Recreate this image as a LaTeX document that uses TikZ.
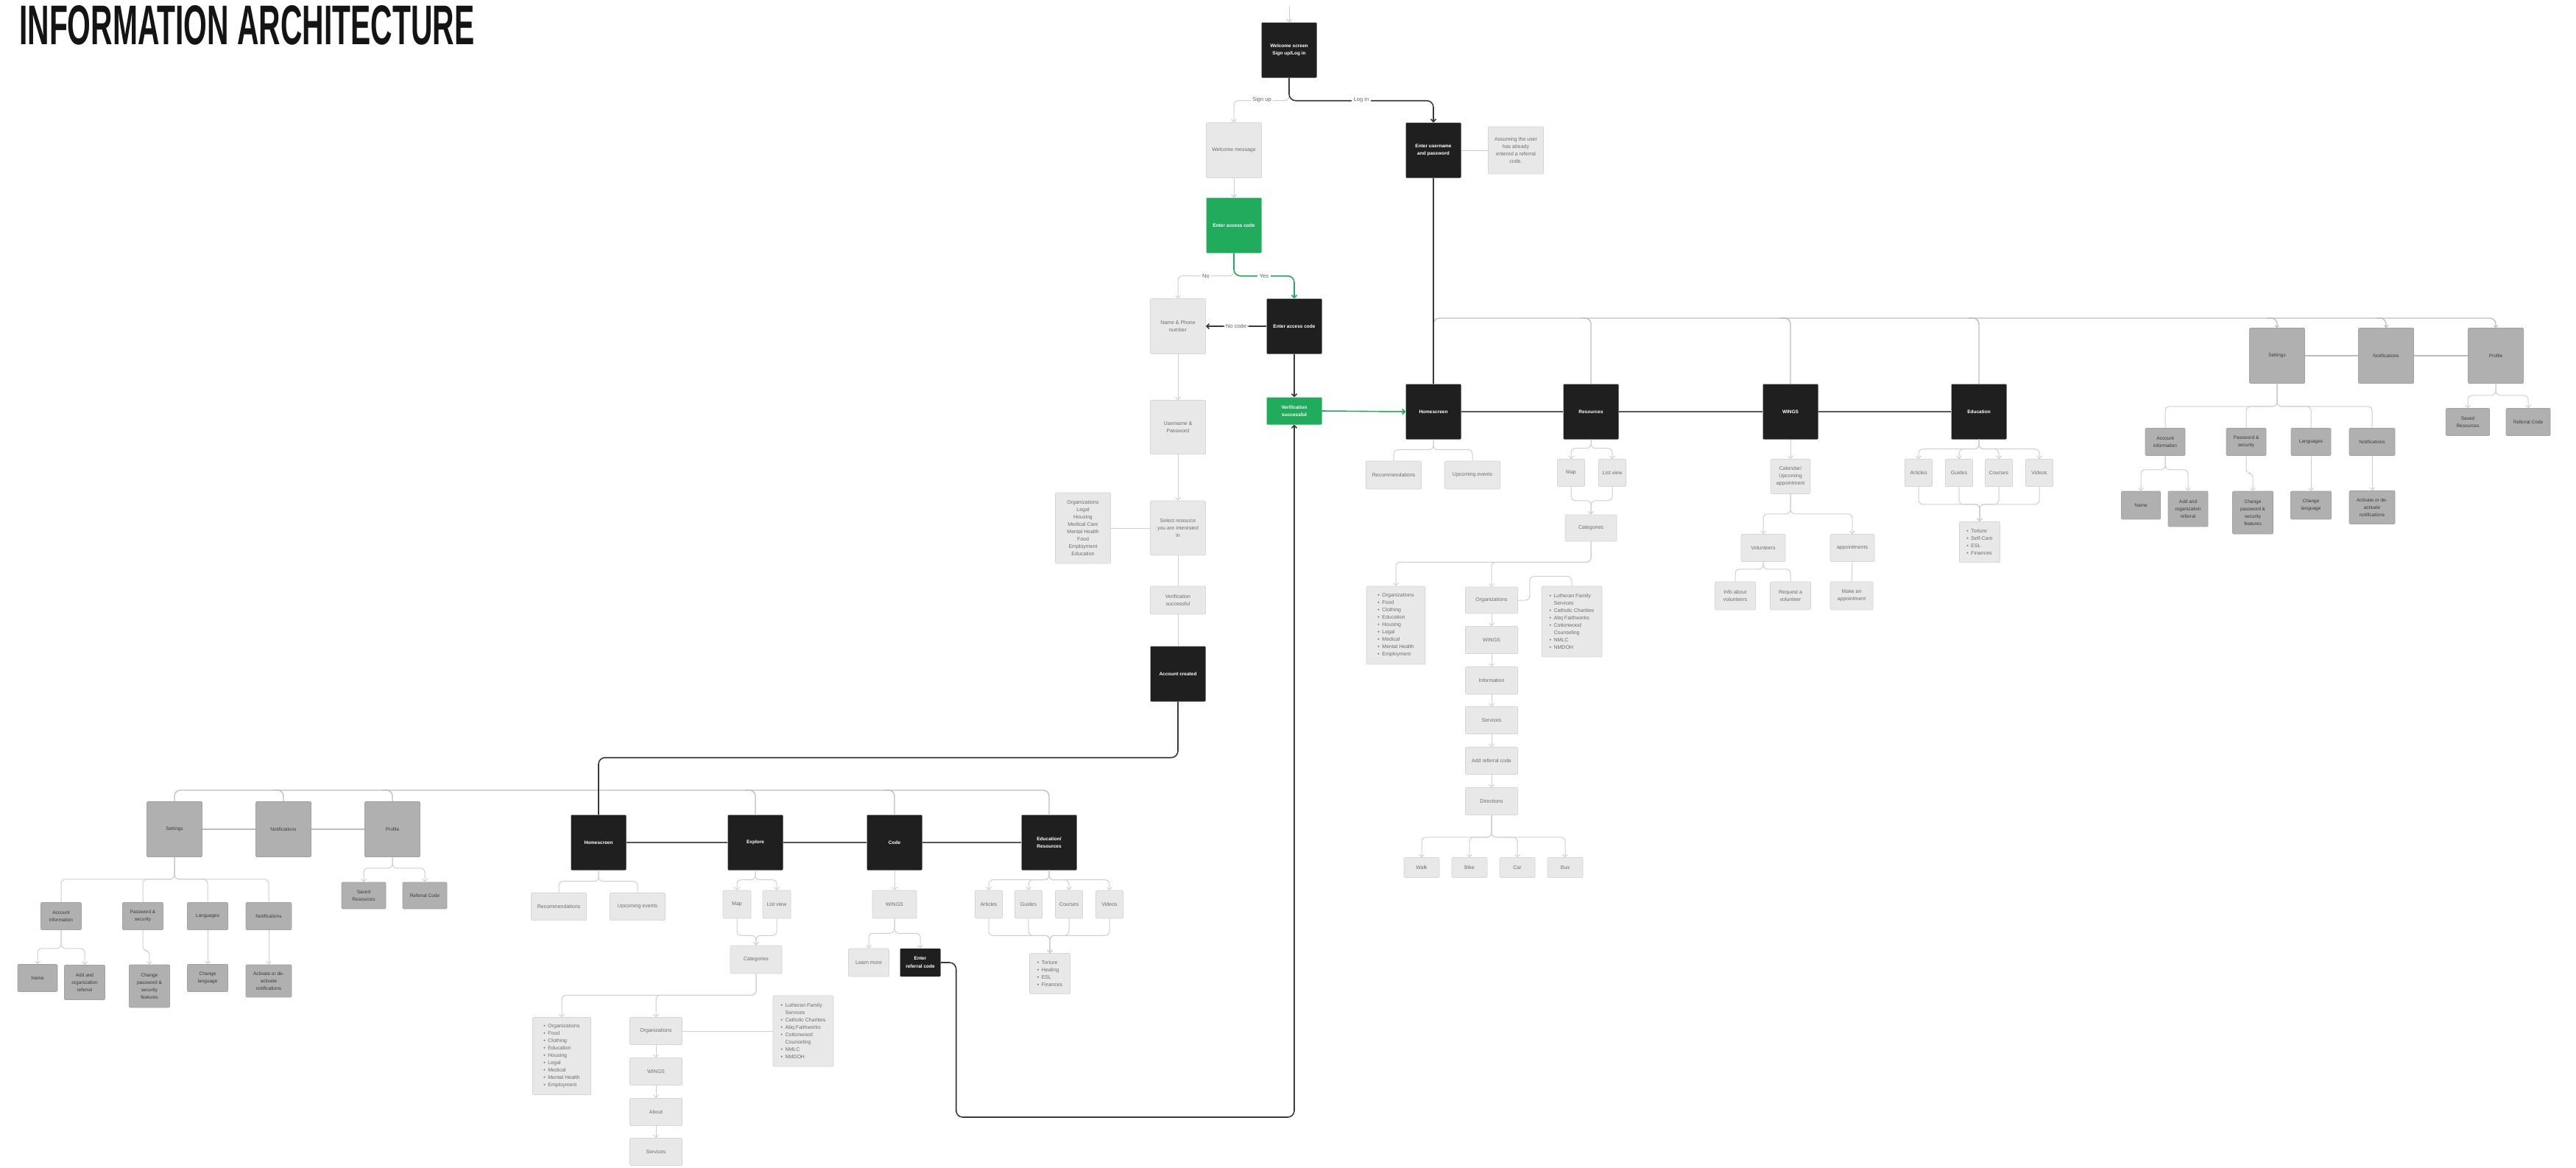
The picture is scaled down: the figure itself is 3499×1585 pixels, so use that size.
\documentclass[tikz,border=0pt]{standalone}
\usepackage{fontspec}
\setmainfont{Liberation Sans}
\usepackage{graphicx}
\usetikzlibrary{arrows.meta}

\definecolor{boxdark}{HTML}{1F1F1F}
\definecolor{boxgreen}{HTML}{20AC5C}
\definecolor{boxlight}{HTML}{E8E8E8}
\definecolor{edgelight}{HTML}{D6D6D6}
\definecolor{boxmid}{HTML}{B0B0B0}
\definecolor{edgemid}{HTML}{A2A2A2}
\definecolor{txtlight}{HTML}{6E6E6E}
\definecolor{txtmid}{HTML}{3C3C3C}
\definecolor{linelight}{HTML}{CFCFCF}
\definecolor{linebus}{HTML}{BDBDBD}
\definecolor{linedark}{HTML}{3A3A3A}

% bullet for list boxes
\newcommand{\blt}{\makebox[6pt][l]{\textbullet}}

\tikzset{
  boxbase/.style={inner sep=1pt, align=center, rounded corners=1.2pt,
    font=\fontsize{7}{10}\selectfont},
  wh/.style 2 args={minimum width=#1pt, minimum height=#2pt},
  dkbox/.style={boxbase, fill=boxdark, text=white,
    font=\fontsize{6.5}{10.5}\selectfont\bfseries, wh={75}{75}},
  grbox/.style={boxbase, fill=boxgreen, text=white,
    font=\fontsize{6.5}{10.5}\selectfont\bfseries, wh={75}{75}},
  ltbox/.style={boxbase, fill=boxlight, draw=edgelight, line width=0.6pt, text=txtlight},
  mdbox/.style={boxbase, fill=boxmid, draw=edgemid, line width=0.6pt, text=txtmid,
    font=\fontsize{6.5}{10}\selectfont},
  lst/.style={align=left, font=\fontsize{7}{10}\selectfont},
  headed/.style={-{Straight Barb[length=3.5pt,width=7pt]}},
  smallhead/.style={-{Straight Barb[length=2.5pt,width=5pt]}},
  lt/.style={draw=linelight, line width=1pt, rounded corners=6pt},
  bus/.style={draw=linebus, line width=1.3pt, rounded corners=8pt},
  dk/.style={draw=linedark, line width=1.6pt, rounded corners=9pt},
  gr/.style={draw=boxgreen, line width=1.6pt, rounded corners=9pt},
  navline/.style={draw=linedark!85, line width=1.8pt},
  sline/.style={draw=linebus, line width=1.2pt},
  lbl/.style={fill=white, inner sep=2.5pt, text=txtmid!80, font=\fontsize{7.5}{9}\selectfont},
}

\begin{document}
\begin{tikzpicture}[x=1pt, y=-1pt]
\path[use as bounding box, fill=white] (0,0) rectangle (3499,1585);

% heading
\node[anchor=north west, inner sep=0pt, text=black!92] (title) at (26,7)
  {\resizebox{618pt}{53pt}{\bfseries INFORMATION ARCHITECTURE}};

% ---------- sign up / log in flow ----------
\node[dkbox] (ws) at (1751,68) {Welcome screen\\Sign up/Log in};
\node[ltbox, wh={75}{75}] (wm) at (1676,204) {Welcome message};
\node[dkbox] (eu) at (1947,204) {Enter username\\and password};
\node[ltbox, wh={75}{64}] (as) at (2059,204) {Assuming the user\\has already\\entered a referral\\code.};
\node[grbox] (gac) at (1676,306) {Enter access code};
\node[ltbox, wh={75}{75}] (np) at (1600,443) {Name \& Phone\\number};
\node[dkbox] (dac) at (1758,443) {Enter access code};
\node[grbox, wh={75}{37}] (vg) at (1758,558) {Verification\\successful};
\node[ltbox, wh={75}{73}] (up) at (1600,580) {Username \&\\Password};
\node[ltbox, wh={75}{74}] (sr) at (1600,717) {Select resource\\you are interested\\in};
\node[ltbox, wh={75}{96}] (ol) at (1471,717) {Organizations\\Legal\\Housing\\Medical Care\\Mental Health\\Food\\Employment\\Education};
\node[ltbox, wh={75}{38}] (vs) at (1600,815) {Verification\\successful};
\node[dkbox] (ac) at (1600,915) {Account created};

% ---------- main navigation (log in) ----------
\node[dkbox] (h1) at (1947,559) {Homescreen};
\node[dkbox] (r1) at (2161,559) {Resources};
\node[dkbox] (w1) at (2432,559) {WINGS};
\node[dkbox] (e1) at (2688,559) {Education};

\node[ltbox, wh={75}{38}] (rec1) at (1893,645) {Recommendations};
\node[ltbox, wh={75}{38}] (ue1) at (2000,645) {Upcoming events};

\node[ltbox, wh={37}{37}] (map1) at (2134,642) {Map};
\node[ltbox, wh={37}{37}] (lv1) at (2190,642) {List view};
\node[ltbox, wh={70}{36}] (cat1) at (2161,717) {Categories};
\node[ltbox, wh={80}{106}, lst] (cl1) at (1896,849) {\blt Organizations\\\blt Food\\\blt Clothing\\\blt Education\\\blt Housing\\\blt Legal\\\blt Medical\\\blt Mental Health\\\blt Employment};
\node[ltbox, wh={71}{36}] (org1) at (2026,815) {Organizations};
\node[ltbox, wh={82}{96}, lst] (ll1) at (2135,844) {\blt Lutheran Family\\\hspace*{6pt}Services\\\blt Catholic Charities\\\blt Abq Faithworks\\\blt Cottonwood\\\hspace*{6pt}Counseling\\\blt NMLC\\\blt NMDOH};
\node[ltbox, wh={71}{37}] (wi1) at (2026,869) {WINGS};
\node[ltbox, wh={71}{37}] (inf1) at (2026,924) {Information};
\node[ltbox, wh={71}{37}] (ser1) at (2026,978) {Services};
\node[ltbox, wh={71}{37}] (arc1) at (2026,1033) {Add referral code};
\node[ltbox, wh={71}{37}] (dir1) at (2026,1088) {Directions};
\node[ltbox, wh={48}{27}] (walk) at (1931,1178) {Walk};
\node[ltbox, wh={48}{27}] (bike) at (1996,1178) {Bike};
\node[ltbox, wh={48}{27}] (car) at (2061,1178) {Car};
\node[ltbox, wh={48}{27}] (bus) at (2126,1178) {Bus};

\node[ltbox, wh={54}{47}] (cal1) at (2432,647) {Calendar/\\Upcoming\\appointment};
\node[ltbox, wh={60}{37}] (vol1) at (2395,744) {Volunteers};
\node[ltbox, wh={60}{37}] (app1) at (2516,744) {appointments};
\node[ltbox, wh={55}{38}] (iv1) at (2357,809) {Info about\\volunteers};
\node[ltbox, wh={55}{38}] (rv1) at (2432,809) {Request a\\volunteer};
\node[ltbox, wh={58}{38}] (ma1) at (2515,809) {Make an\\appointment};

\node[ltbox, wh={37}{37}] (art1) at (2606,642) {Articles};
\node[ltbox, wh={37}{37}] (gui1) at (2661,642) {Guides};
\node[ltbox, wh={37}{37}] (cou1) at (2715,642) {Courses};
\node[ltbox, wh={37}{37}] (vid1) at (2770,642) {Videos};
\node[ltbox, wh={55}{55}, lst] (el1) at (2689,736) {\blt Torture\\\blt Self-Care\\\blt ESL\\\blt Finances};

% settings group (log in)
\node[mdbox, wh={75}{75}] (st1) at (3093,483) {Settings};
\node[mdbox, wh={75}{75}] (nt1) at (3241,483) {Notifications};
\node[mdbox, wh={75}{75}] (pf1) at (3390,483) {Profile};
\node[mdbox, wh={54}{37}] (ai1) at (2941,600) {Account\\information};
\node[mdbox, wh={54}{37}] (ps1) at (3051,600) {Password \&\\security};
\node[mdbox, wh={54}{37}] (lg1) at (3139,600) {Languages};
\node[mdbox, wh={62}{37}] (nn1) at (3222,600) {Notifications};
\node[mdbox, wh={53}{38}] (nm1) at (2908,686) {Name};
\node[mdbox, wh={54}{48}] (ao1) at (2972,691) {Add and\\organization\\referral};
\node[mdbox, wh={55}{58}] (cp1) at (3060,696) {Change\\password \&\\security\\features};
\node[mdbox, wh={55}{38}] (chl1) at (3139,686) {Change\\language};
\node[mdbox, wh={62}{45}] (an1) at (3222,689) {Activate or de-\\activate\\notifications};
\node[mdbox, wh={59}{37}] (sv1) at (3352,573) {Saved\\Resources};
\node[mdbox, wh={60}{37}] (rc1) at (3434,573) {Referral Code};

% ---------- main navigation (sign up) ----------
\node[dkbox] (h2) at (813,1144) {Homescreen};
\node[dkbox] (ex2) at (1026,1144) {Explore};
\node[dkbox] (cd2) at (1215,1144) {Code};
\node[dkbox] (ed2) at (1425,1144) {Education/\\Resources};

\node[ltbox, wh={75}{37}] (rec2) at (759,1231) {Recommendations};
\node[ltbox, wh={75}{37}] (ue2) at (866,1231) {Upcoming events};
\node[ltbox, wh={38}{38}] (map2) at (1001,1228) {Map};
\node[ltbox, wh={38}{38}] (lv2) at (1055,1228) {List view};
\node[ltbox, wh={70}{38}] (cat2) at (1027,1303) {Categories};
\node[ltbox, wh={79}{105}, lst] (cl2) at (763,1434) {\blt Organizations\\\blt Food\\\blt Clothing\\\blt Education\\\blt Housing\\\blt Legal\\\blt Medical\\\blt Mental Health\\\blt Employment};
\node[ltbox, wh={71}{37}] (org2) at (891,1400) {Organizations};
\node[ltbox, wh={82}{96}, lst] (ll2) at (1091,1400) {\blt Lutheran Family\\\hspace*{6pt}Services\\\blt Catholic Charities\\\blt Abq Faithworks\\\blt Cottonwood\\\hspace*{6pt}Counseling\\\blt NMLC\\\blt NMDOH};
\node[ltbox, wh={71}{37}] (wi2) at (891,1455) {WINGS};
\node[ltbox, wh={71}{37}] (ab2) at (891,1510) {About};
\node[ltbox, wh={71}{37}] (ser2) at (891,1564) {Services};

\node[ltbox, wh={60}{38}] (wg2) at (1215,1228) {WINGS};
\node[ltbox, wh={55}{38}] (lm2) at (1180,1307) {Learn more};
\node[dkbox, wh={55}{38}] (er2) at (1250,1307) {Enter\\referral code};

\node[ltbox, wh={37}{38}] (art2) at (1343,1228) {Articles};
\node[ltbox, wh={37}{38}] (gui2) at (1397,1228) {Guides};
\node[ltbox, wh={37}{38}] (cou2) at (1452,1228) {Courses};
\node[ltbox, wh={37}{38}] (vid2) at (1507,1228) {Videos};
\node[ltbox, wh={55}{55}, lst] (el2) at (1426,1322) {\blt Torture\\\blt Healing\\\blt ESL\\\blt Finances};

% settings group (sign up)
\node[mdbox, wh={75}{75}] (st2) at (237,1126) {Settings};
\node[mdbox, wh={75}{75}] (nt2) at (385,1126) {Notifications};
\node[mdbox, wh={75}{75}] (pf2) at (533,1126) {Profile};
\node[mdbox, wh={55}{37}] (ai2) at (83,1244) {Account\\information};
\node[mdbox, wh={55}{37}] (ps2) at (194,1244) {Password \&\\security};
\node[mdbox, wh={55}{37}] (lg2) at (282,1244) {Languages};
\node[mdbox, wh={62}{37}] (nn2) at (365,1244) {Notifications};
\node[mdbox, wh={54}{37}] (nm2) at (51,1328) {Name};
\node[mdbox, wh={55}{47}] (ao2) at (115,1334) {Add and\\organization\\referral};
\node[mdbox, wh={55}{58}] (cp2) at (203,1339) {Change\\password \&\\security\\features};
\node[mdbox, wh={55}{37}] (chl2) at (282,1328) {Change\\language};
\node[mdbox, wh={62}{44}] (an2) at (365,1332) {Activate or de-\\activate\\notifications};
\node[mdbox, wh={60}{36}] (sv2) at (494,1216) {Saved\\Resources};
\node[mdbox, wh={60}{36}] (rc2) at (577,1216) {Referral Code};

% ---------- connectors: entry flow ----------
\coordinate (entry) at (1751,8);
\coordinate (loopy) at (0,1517);
\coordinate (bus1) at (0,432);
\coordinate (bus2) at (0,1073);

\draw[lt, headed] (entry) -- (ws.north);
\draw[lt, headed] (ws.south) -- ++(0,31) -| (wm.north);
\draw[dk, headed] (ws.south) -- ++(0,31) -| (eu.north);
\node[lbl] (lsu) at (1714,136) {Sign up};
\node[lbl] (lli) at (1849,136) {Log in};
\draw[lt] (eu.east) -- (as.west);
\draw[lt, headed] (wm.south) -- (gac.north);
\draw[lt, headed] (gac.south) -- ++(0,31) -| (np.north);
\draw[gr, headed] (gac.south) -- ++(0,31) -| (dac.north);
\node[lbl] (lno) at (1638,375) {No};
\node[lbl] (lyes) at (1717,375) {Yes};
\draw[dk, headed] (dac.west) -- (np.east) node[lbl, midway] (lnc) {No code};
\draw[dk, headed] (dac.south) -- (vg.north);
\draw[lt, headed] (np.south) -- (up.north);
\draw[lt, headed] (up.south) -- (sr.north);
\draw[lt] (sr.south) -- (vs.north);
\draw[lt] (vs.south) -- (ac.north);
\draw[lt] (ol.east) -- (sr.west);
\draw[gr, headed] (vg.east) -- (h1.west);
\draw[dk, headed] (er2.east) -- ++(21,0) |- (vg.south |- loopy) -- (vg.south);

% ---------- connectors: log-in navigation ----------
\draw[bus, smallhead] (h1.north |- bus1) ++(0,16) -- ++(0,-16) -- (pf1.north |- bus1) -- (pf1.north);
\draw[dk] (eu.south) -- (h1.north);
\foreach \n in {r1,w1,e1}
  \draw[bus] (\n.north |- bus1) ++(-14,0) -- ++(14,0) -- (\n.north);
\foreach \n in {st1,nt1}
  \draw[bus, smallhead] (\n.north |- bus1) ++(-14,0) -- ++(14,0) -- (\n.north);
\draw[navline] (h1.east) -- (r1.west) (r1.east) -- (w1.west) (w1.east) -- (e1.west);
\draw[sline] (st1.east) -- (nt1.west) (nt1.east) -- (pf1.west);

\foreach \n in {rec1,ue1}
  \draw[lt] (h1.south) -- ++(0,14) -| (\n.north);
\foreach \n in {map1,lv1}
  \draw[lt, headed] (r1.south) -- ++(0,12) -| (\n.north);
\foreach \n in {map1,lv1}
  \draw[lt, headed] (\n.south) -- ++(0,19) -| (cat1.north);
\foreach \n in {cl1,org1}
  \draw[lt, headed] (cat1.south) -- ++(0,28) -| (\n.north);
\draw[lt] (org1.east) -- ++(16,0) |- ([yshift=13pt]ll1.north) -- (ll1.north);
\draw[lt, headed] (org1.south) -- (wi1.north);
\draw[lt, headed] (wi1.south) -- (inf1.north);
\draw[lt, headed] (inf1.south) -- (ser1.north);
\draw[lt, headed] (ser1.south) -- (arc1.north);
\draw[lt, headed] (arc1.south) -- (dir1.north);
\foreach \n in {walk,bike,car,bus}
  \draw[lt, headed] (dir1.south) -- ++(0,30) -| (\n.north);

\draw[lt, headed] (w1.south) -- (cal1.north);
\foreach \n in {vol1,app1}
  \draw[lt, headed] (cal1.south) -- ++(0,27) -| (\n.north);
\foreach \n in {iv1,rv1}
  \draw[lt] (vol1.south) -- ++(0,10) -| (\n.north);
\draw[lt] (app1.south) -- (ma1.north);

\foreach \n in {art1,gui1,cou1,vid1}
  \draw[lt, headed] (e1.south) -- ++(0,13) -| (\n.north);
\foreach \n in {art1,gui1,cou1,vid1}
  \draw[lt, headed] (\n.south) -- ++(0,24) -| (el1.north);

\foreach \n in {ai1,ps1,lg1,nn1}
  \draw[lt] (st1.south) -- ++(0,31) -| (\n.north);
\foreach \n in {sv1,rc1}
  \draw[lt, headed] (pf1.south) -- ++(0,16) -| (\n.north);
\foreach \n in {nm1,ao1}
  \draw[lt, headed] (ai1.south) -- ++(0,19) -| (\n.north);
\draw[lt, headed] (ps1.south) -- ++(0,24) -| (cp1.north);
\draw[lt, headed] (lg1.south) -- (chl1.north);
\draw[lt, headed] (nn1.south) -- (an1.north);

% ---------- connectors: sign-up navigation ----------
\draw[bus] (st2.north) -- (st2.north |- bus2) -- (ed2.north |- bus2) -- (ed2.north);
\foreach \n in {nt2,pf2,ex2,cd2}
  \draw[bus] (\n.north |- bus2) ++(-14,0) -- ++(14,0) -- (\n.north);
\draw[dk] (ac.south) -- ++(0,76) -| (h2.north);
\draw[navline] (h2.east) -- (ex2.west) (ex2.east) -- (cd2.west) (cd2.east) -- (ed2.west);
\draw[sline] (st2.east) -- (nt2.west) (nt2.east) -- (pf2.west);

\foreach \n in {rec2,ue2}
  \draw[lt] (h2.south) -- ++(0,15) -| (\n.north);
\foreach \n in {map2,lv2}
  \draw[lt, headed] (ex2.south) -- ++(0,13) -| (\n.north);
\foreach \n in {map2,lv2}
  \draw[lt, headed] (\n.south) -- ++(0,23) -| (cat2.north);
\foreach \n in {cl2,org2}
  \draw[lt, headed] (cat2.south) -- ++(0,29) -| (\n.north);
\draw[lt] (org2.east) -- (ll2.west);
\draw[lt, headed] (org2.south) -- (wi2.north);
\draw[lt, headed] (wi2.south) -- (ab2.north);
\draw[lt, headed] (ab2.south) -- (ser2.north);

\draw[lt, headed] (cd2.south) -- (wg2.north);
\foreach \n in {lm2,er2}
  \draw[lt, headed] (wg2.south) -- ++(0,20) -| (\n.north);

\foreach \n in {art2,gui2,cou2,vid2}
  \draw[lt, headed] (ed2.south) -- ++(0,13) -| (\n.north);
\foreach \n in {art2,gui2,cou2,vid2}
  \draw[lt, headed] (\n.south) -- ++(0,23) -| (el2.north);

\foreach \n in {ai2,ps2,lg2,nn2}
  \draw[lt] (st2.south) -- ++(0,30) -| (\n.north);
\foreach \n in {sv2,rc2}
  \draw[lt, headed] (pf2.south) -- ++(0,15) -| (\n.north);
\foreach \n in {nm2,ao2}
  \draw[lt, headed] (ai2.south) -- ++(0,25) -| (\n.north);
\draw[lt, headed] (ps2.south) -- ++(0,28) -| (cp2.north);
\draw[lt, headed] (lg2.south) -- (chl2.north);
\draw[lt, headed] (nn2.south) -- (an2.north);
\end{tikzpicture}
\end{document}
